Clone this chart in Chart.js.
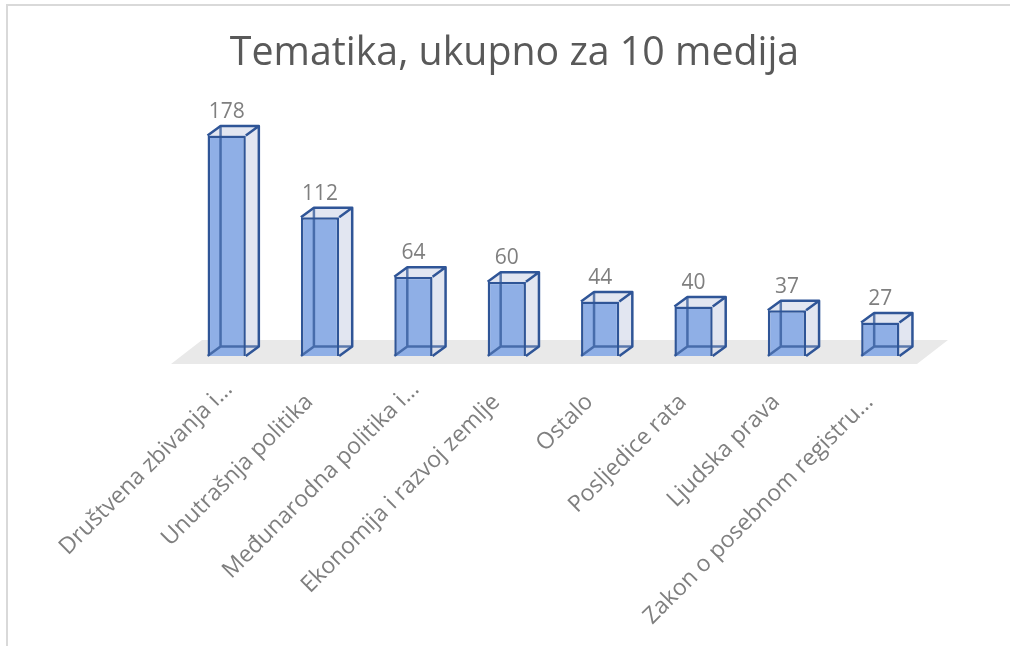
<!DOCTYPE html>
<html>
<head>
<meta charset="utf-8">
<title>Tematika</title>
<script src="https://cdn.jsdelivr.net/npm/chart.js@4"></script>
<style>
  html, body { margin: 0; padding: 0; width: 1010px; height: 646px; overflow: hidden; background: #fff; }
  #frame { position: absolute; left: 6px; top: 4px; width: 1010px; height: 650px; border-left: 2px solid #d9d9d9; border-top: 2px solid #d9d9d9; }
  #wrap { position: absolute; left: 0; top: 6px; width: 1010px; height: 640px; }
</style>
</head>
<body>
<div id="frame"></div>
<div id="wrap"><canvas id="chart" width="1010" height="640"></canvas></div>
<script>
const categories = [
  'Društvena zbivanja i…',
  'Unutrašnja politika',
  'Međunarodna politika i…',
  'Ekonomija i razvoj zemlje',
  'Ostalo',
  'Posljedice rata',
  'Ljudska prava',
  'Zakon o posebnom registru…'
];
const values = [178, 112, 64, 60, 44, 40, 37, 27];

const DEPTH_X = 13;
const DEPTH_Y = 9.5;
const EDGE = '#2f5597';
const GREY = '#7f7f7f';

// fake 3D: floor and back of the box behind the bars, the rest on top
const box3d = {
  id: 'box3d',
  beforeDatasetsDraw(chart) {
    const { ctx, chartArea, scales } = chart;
    const y0 = scales.y.getPixelForValue(0);
    ctx.save();
    ctx.fillStyle = '#e9e9e9';
    ctx.beginPath();
    ctx.moveTo(chartArea.left - 9, y0 + 8);
    ctx.lineTo(chartArea.left + 22, y0 - 16);
    ctx.lineTo(chartArea.right + 21, y0 - 16);
    ctx.lineTo(chartArea.right - 10, y0 + 8);
    ctx.closePath();
    ctx.fill();
    chart.getDatasetMeta(0).data.forEach(bar => {
      const l = bar.x - bar.width / 2, r = bar.x + bar.width / 2;
      ctx.fillStyle = 'rgba(214,220,235,0.7)';
      ctx.beginPath();
      ctx.moveTo(r, bar.y);
      ctx.lineTo(r + DEPTH_X, bar.y - DEPTH_Y);
      ctx.lineTo(r + DEPTH_X, bar.base - DEPTH_Y);
      ctx.lineTo(r, bar.base);
      ctx.closePath();
      ctx.fill();
      ctx.beginPath();
      ctx.moveTo(l, bar.y);
      ctx.lineTo(l + DEPTH_X, bar.y - DEPTH_Y);
      ctx.lineTo(r + DEPTH_X, bar.y - DEPTH_Y);
      ctx.lineTo(r, bar.y);
      ctx.closePath();
      ctx.fill();
    });
    ctx.restore();
  },
  afterDatasetsDraw(chart) {
    const { ctx } = chart;
    ctx.save();
    chart.getDatasetMeta(0).data.forEach((bar, i) => {
      const l = bar.x - bar.width / 2, r = bar.x + bar.width / 2;
      ctx.strokeStyle = EDGE;
      ctx.lineWidth = 2.5;
      ctx.lineJoin = 'round';
      ctx.beginPath();
      // top and right of the box
      ctx.moveTo(l, bar.y);
      ctx.lineTo(l + DEPTH_X, bar.y - DEPTH_Y);
      ctx.lineTo(r + DEPTH_X, bar.y - DEPTH_Y);
      ctx.lineTo(r, bar.y);
      ctx.moveTo(r + DEPTH_X, bar.y - DEPTH_Y);
      ctx.lineTo(r + DEPTH_X, bar.base - DEPTH_Y);
      ctx.lineTo(r, bar.base);
      ctx.stroke();
      // back edges seen through the front
      ctx.strokeStyle = 'rgba(47,85,151,0.75)';
      ctx.beginPath();
      ctx.moveTo(l + DEPTH_X, bar.y - DEPTH_Y);
      ctx.lineTo(l + DEPTH_X, bar.base - DEPTH_Y);
      ctx.lineTo(r + DEPTH_X, bar.base - DEPTH_Y);
      ctx.moveTo(l, bar.base);
      ctx.lineTo(l + DEPTH_X, bar.base - DEPTH_Y);
      ctx.stroke();

      ctx.fillStyle = GREY;
      ctx.font = '21px "Open Sans"';
      ctx.textAlign = 'center';
      ctx.textBaseline = 'alphabetic';
      ctx.fillText(String(values[i]), bar.x, bar.y - DEPTH_Y - 8);
    });
    ctx.restore();
  }
};

new Chart(document.getElementById('chart'), {
  type: 'bar',
  data: {
    labels: categories,
    datasets: [{
      data: values,
      backgroundColor: '#8fafe6',
      borderColor: EDGE,
      borderWidth: 2.5,
      barPercentage: 0.41,
      categoryPercentage: 1
    }]
  },
  plugins: [box3d],
  options: {
    responsive: false,
    animation: false,
    layout: { padding: { left: 102, right: 83, top: 0, bottom: 0 } },
    plugins: {
      legend: { display: false },
      tooltip: { enabled: false },
      title: {
        display: true,
        text: 'Tematika, ukupno za 10 medija',
        color: '#595959',
        font: { family: '"Open Sans"', size: 39.3, weight: 'normal', lineHeight: 1.2 },
        padding: { top: 24, bottom: 31 }
      }
    },
    scales: {
      x: {
        grid: { display: false },
        border: { display: false },
        afterFit(scale) { scale.height = 290; },
        ticks: {
          autoSkip: false,
          minRotation: 45,
          maxRotation: 45,
          labelOffset: 2,
          padding: 12,
          color: GREY,
          font: { family: '"Open Sans"', size: 23 },
          // the 1st and 3rd labels sit further out in the original, pull the others back
          callback(value, i) {
            return (i === 0 || i === 2) ? categories[i] : categories[i] + '\u00a0\u00a0\u00a0';
          }
        }
      },
      y: {
        min: 0,
        max: 200,
        grid: { display: false },
        border: { display: false },
        ticks: { display: false },
        // empty strip so the title stays centred on the whole page
        afterFit(scale) { scale.width = 78; }
      }
    }
  }
});
</script>
</body>
</html>
